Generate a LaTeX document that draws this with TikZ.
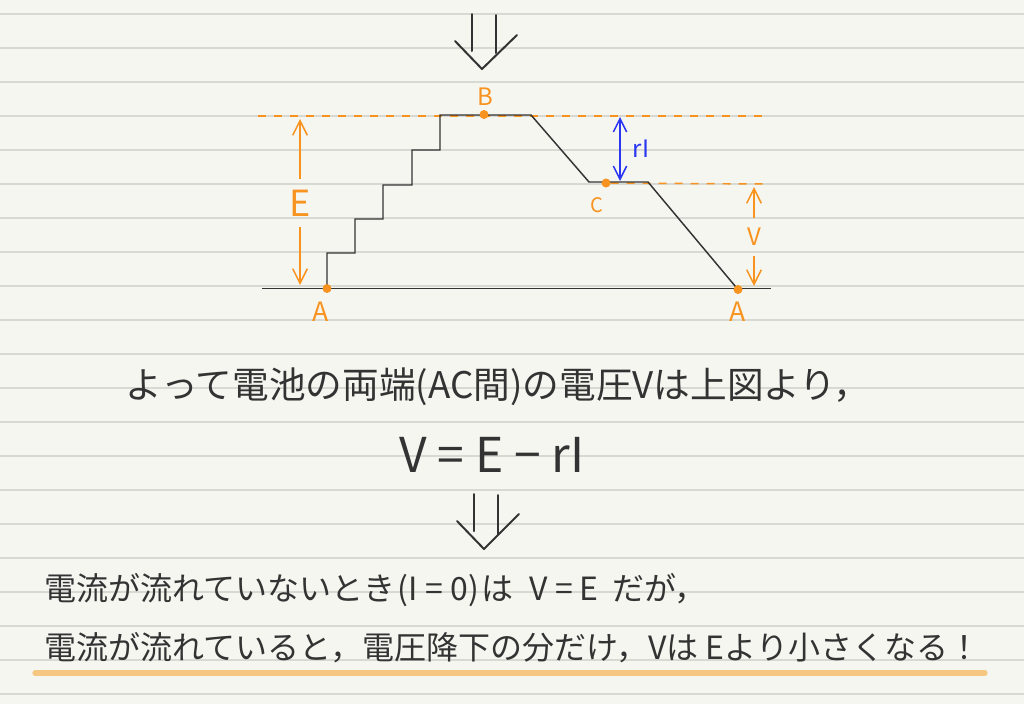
\documentclass[tikz,border=0pt]{standalone}
\usepackage{fontspec}
\setmainfont{Noto Sans CJK JP}
\usetikzlibrary{arrows.meta}
\definecolor{paper}{HTML}{F6F6F1}
\definecolor{ruled}{HTML}{D9D9D3}
\definecolor{ink}{HTML}{333333}
\definecolor{orng}{HTML}{F7931E}
\definecolor{pen}{HTML}{2A36F2}
\definecolor{hilite}{HTML}{F5C780}
\tikzset{
  dot/.style={circle, fill=orng, inner sep=0pt, minimum size=6.5pt},
  lbl/.style={text=orng, inner sep=0pt},
  graph/.style={draw=ink, line width=1.1pt, line join=miter},
  guide/.style={draw=orng, line width=1.1pt, dash pattern=on 6pt off 6pt},
  dim/.style={draw=orng, line width=1.1pt, -{Straight Barb[length=11pt, width=11pt]}},
  bigarrow/.style={draw=ink, line width=1.5pt, line join=round, line cap=round},
  hand/.style={text=ink, inner sep=0pt}
}
\begin{document}
\begin{tikzpicture}[x=0.75pt, y=-0.75pt]
\useasboundingbox (0,0) rectangle (1024,704);
\fill[paper] (0,0) rectangle (1024,704);
% ruled paper
\foreach \k in {0,...,20}
  \draw[ruled, line width=1.1pt] (0,{14+34*\k}) -- (1024,{14+34*\k});
% arrow on top
\draw[bigarrow] (472,14) -- (472,51);
\draw[bigarrow] (496,15) -- (496,53);
\draw[bigarrow] (455,41) -- (482,69) -- (517,35);
% points
\node[dot] (a1) at (327,288.5){};
\node[dot] (a2) at (738,289.5){};
\node[dot] (b) at (484,114.5){};
\node[dot] (c) at (606,183){};
\coordinate (t1) at (355,253);
\coordinate (t2) at (383,219);
\coordinate (t3) at (412,185);
\coordinate (t4) at (440,150);
\coordinate (t5) at (531,115);
\coordinate (c0) at (589,182);
\coordinate (c1) at (648,182);
\coordinate (g0) at (262,288.5);
\coordinate (g1) at (771,288.5);
\coordinate (h0) at (258,116);
\coordinate (h1) at (766,116);
\coordinate (h2) at (766,184);
% dashed levels
\draw[guide] (h0) -- (h1);
\draw[guide] (c) -- (h2);
% potential graph
\draw[graph] (g0) -- (g1);
\draw[graph] (a1.center) |- (t1) |- (t2) |- (t3) |- (t4) |- (t5) -- (c0) -- (c1) -- (a2.center);
\node[dot] at (a1){};
\node[dot] at (a2){};
\node[dot] at (b){};
\node[dot] at (c){};
\node[lbl, font=\fontsize{20}{20}\selectfont] (la1) at (321,312){A};
\node[lbl, font=\fontsize{20}{20}\selectfont] (la2) at (738,312){A};
\node[lbl, font=\fontsize{18}{18}\selectfont] (lb) at (485,97){B};
\node[lbl, font=\fontsize{15}{15}\selectfont] (lc) at (597,205){C};
% E
\node[lbl, font=\fontsize{27}{27}\selectfont, minimum height=36pt] (e) at (300,203){E};
\coordinate (eT) at (300,119);
\coordinate (eB) at (300,285);
\draw[dim] (e) -- (eT);
\draw[dim] (e) -- (eB);
% V
\node[lbl, font=\fontsize{18}{18}\selectfont, minimum height=28pt] (v) at (754,237){V};
\coordinate (vT) at (754,187);
\coordinate (vB) at (754,286);
\draw[dim] (v) -- (vT);
\draw[dim] (v) -- (vB);
% rI
\coordinate (rT) at (620,117);
\coordinate (rB) at (620,181);
\draw[dim, draw=pen, {Straight Barb[length=10pt, width=10pt]}-{Straight Barb[length=10pt, width=10pt]}] (rT) -- (rB);
\node[lbl, text=pen, font=\fontsize{18}{18}\selectfont] (ri) at (641,149){rI};
% text
\node[hand, font=\fontsize{27.5}{27.5}\selectfont] (txt1) at (498,387){よって電池の両端(AC間)の電圧Vは上図より，};
\node[hand, font=\fontsize{36}{36}\selectfont] (txt2) at (492,455){V = E − rI};
\draw[bigarrow] (474,494) -- (474,531);
\draw[bigarrow] (498,495) -- (498,534);
\draw[bigarrow] (457,521) -- (484,549) -- (519,514);
\draw[hilite, line width=4pt, line cap=round] (35,673) -- (985,673);
\node[hand, anchor=west, font=\fontsize{24}{24}\selectfont] (txt3) at (44,590){電流が流れていないとき\hspace{2pt}(I = 0)\hspace{2pt}は\hspace{12pt}V = E\hspace{10pt}だが，};
\node[hand, anchor=west, font=\fontsize{24}{24}\selectfont] (txt4) at (44,648){電流が流れていると，電圧降下の分だけ，Vは Eより小さくなる！};
\end{tikzpicture}
\end{document}
